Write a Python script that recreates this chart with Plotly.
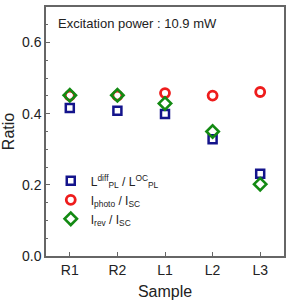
import plotly.graph_objects as go

samples = ["R1", "R2", "L1", "L2", "L3"]
l_ratio = [0.416, 0.408, 0.399, 0.328, 0.231]
i_photo = [0.451, 0.451, 0.458, 0.451, 0.461]
i_rev = [0.452, 0.452, 0.429, 0.350, 0.202]

FONT = "Liberation Sans, Arial, sans-serif"

fig = go.Figure()
fig.add_trace(go.Scatter(
    x=samples, y=l_ratio, mode="markers",
    name="L<sup>diff</sup><sub>PL</sub> / L<sup>OC</sup><sub>PL</sub>",
    marker=dict(symbol="square-open", size=8, color="#14148c", line=dict(width=2.5, color="#14148c"))))
fig.add_trace(go.Scatter(
    x=samples, y=i_photo, mode="markers",
    name="I<sub>photo</sub> / I<sub>SC</sub>",
    marker=dict(symbol="circle-open", size=9, color="#ee1c1c", line=dict(width=2.8, color="#ee1c1c"))))
fig.add_trace(go.Scatter(
    x=samples, y=i_rev, mode="markers",
    name="I<sub>rev</sub> / I<sub>SC</sub>",
    marker=dict(symbol="diamond-open", size=9.5, color="#138a13", line=dict(width=2.6, color="#138a13"))))

fig.add_annotation(text="Excitation power : 10.9 mW", xref="paper", yref="paper",
                   x=0.04, y=0.935, xanchor="left", yanchor="middle", showarrow=False,
                   font=dict(family=FONT, size=13, color="#222"))

fig.update_layout(
    width=291, height=303,
    margin=dict(l=46, r=6, t=5, b=46),
    paper_bgcolor="white", plot_bgcolor="white",
    font=dict(family=FONT, color="#222"),
    showlegend=True,
    legend=dict(x=0.02, y=0.36, xanchor="left", yanchor="top", bgcolor="rgba(0,0,0,0)",
                font=dict(family=FONT, size=12, color="#222"), tracegroupgap=0,
                itemwidth=30),
    xaxis=dict(type="category", range=[-0.5, 4.5], showline=True, linecolor="#666", linewidth=1.5,
               mirror=True, ticks="inside", ticklen=4, tickcolor="#666", showgrid=False, zeroline=False,
               tickfont=dict(size=14, family=FONT, color="#222"),
               title=dict(text="Sample", font=dict(size=16, family=FONT, color="#222"), standoff=9)),
    yaxis=dict(range=[0, 0.7], tickvals=[0, 0.2, 0.4, 0.6], ticktext=["0.0", "0.2", "0.4", "0.6"],
               showline=True, linecolor="#666", linewidth=1.5, mirror=True,
               ticks="inside", ticklen=4, tickcolor="#666", showgrid=False, zeroline=False,
               minor=dict(dtick=0.05, ticks="inside", ticklen=2, tickcolor="#666"),
               tickfont=dict(size=14, family=FONT, color="#222"),
               title=dict(text="Ratio", font=dict(size=16, family=FONT, color="#222"), standoff=5)),
)

fig.write_html("out.html")
